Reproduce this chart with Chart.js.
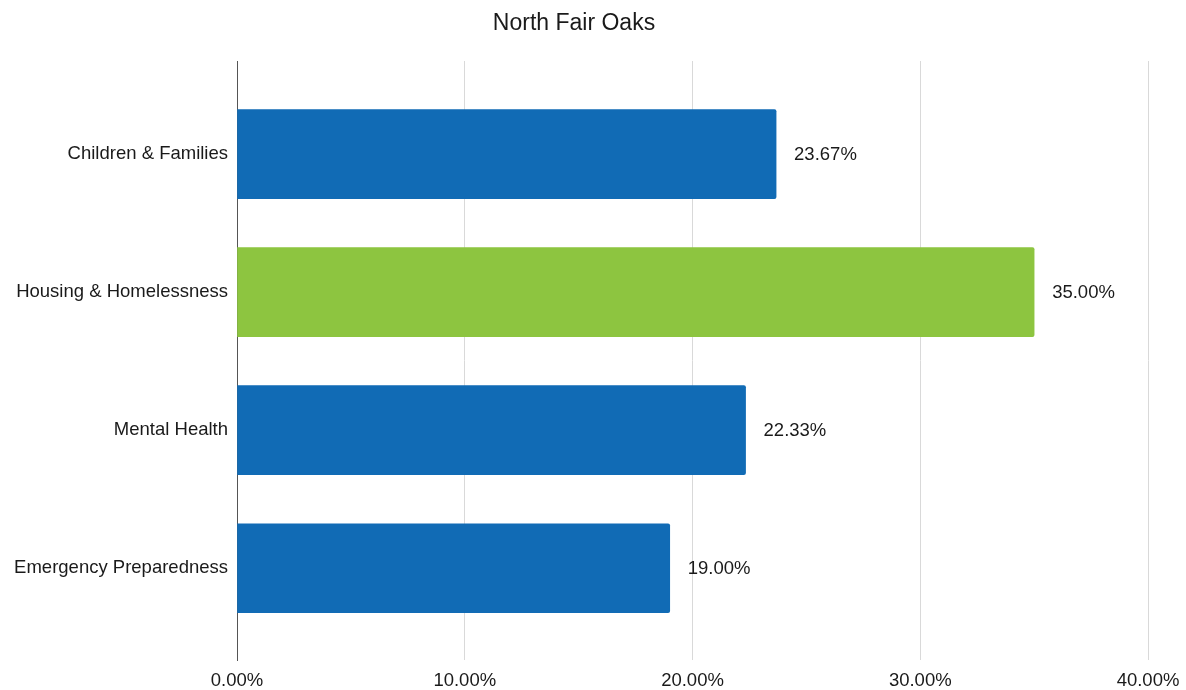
<!DOCTYPE html>
<html>
<head>
<meta charset="utf-8">
<script src="https://cdn.jsdelivr.net/npm/chart.js@4/dist/chart.umd.min.js"></script>
<style>
  html, body { margin: 0; padding: 0; background: #fff; }
  #wrap { width: 1186px; height: 690px; }
</style>
</head>
<body>
<div id="wrap"><canvas id="myChart"></canvas></div>
<script>
var categories = ["Children & Families", "Housing & Homelessness", "Mental Health", "Emergency Preparedness"];
var values = [23.67, 35.00, 22.33, 19.00];
var barColors = ["#116bb5", "#8dc540", "#116bb5", "#116bb5"];
var xTicks = [0, 10, 20, 30, 40];

var FONT = "'Liberation Sans', Arial, Helvetica, sans-serif";
var LABEL_SIZE = 18.5;

// value labels to the right of each bar
var valueLabels = {
  id: 'valueLabels',
  afterDatasetsDraw: function(chart) {
    var ctx = chart.ctx;
    var meta = chart.getDatasetMeta(0);
    ctx.save();
    ctx.font = LABEL_SIZE + "px " + FONT;
    ctx.fillStyle = "#1a1a1a";
    ctx.textBaseline = "middle";
    ctx.textAlign = "left";
    meta.data.forEach(function(bar, i) {
      ctx.fillText(values[i].toFixed(2) + "%", bar.x + 18, bar.y + 1);
    });
    ctx.restore();
  }
};

var ctx = document.getElementById("myChart");
new Chart(ctx, {
  type: "bar",
  data: {
    datasets: [{
      data: values.map(function(v, i) { return { x: v, y: i }; }),
      backgroundColor: barColors,
      barThickness: 89,
      borderRadius: 2,
      borderSkipped: 'start'
    }]
  },
  plugins: [valueLabels],
  options: {
    indexAxis: "y",
    responsive: true,
    maintainAspectRatio: false,
    animation: false,
    layout: { padding: { left: 0, right: 38, top: 0, bottom: 0 } },
    plugins: {
      legend: { display: false },
      tooltip: { enabled: false },
      title: {
        display: true,
        text: "North Fair Oaks",
        color: "#1a1a1a",
        font: { family: FONT, size: 23, weight: "normal" },
        padding: { top: 10, bottom: 23.4 }
      }
    },
    scales: {
      x: {
        type: "linear",
        min: 0,
        max: 40,
        afterBuildTicks: function(scale) {
          scale.ticks = xTicks.map(function(v) { return { value: v }; });
        },
        afterFit: function(scale) {
          scale.height = 30;
          scale.paddingRight = 0;
          scale.paddingLeft = 0;
        },
        grid: { color: "#d9d9d9", lineWidth: 1, drawTicks: false },
        border: { display: false },
        ticks: {
          padding: 10,
          color: "#1a1a1a",
          font: { family: FONT, size: LABEL_SIZE },
          callback: function(v) { return v.toFixed(2) + "%"; }
        }
      },
      y: {
        type: "linear",
        reverse: true,
        offset: false,
        min: -0.675,
        max: 3.665,
        afterBuildTicks: function(scale) {
          scale.ticks = categories.map(function(c, i) { return { value: i }; });
        },
        afterFit: function(scale) { scale.width = 237; },
        grid: { display: false, drawTicks: false },
        border: { display: true, color: "#555", width: 1 },
        ticks: {
          padding: 9,
          color: "#1a1a1a",
          font: { family: FONT, size: LABEL_SIZE },
          callback: function(v) { return categories[v]; }
        }
      }
    }
  }
});
</script>
</body>
</html>
